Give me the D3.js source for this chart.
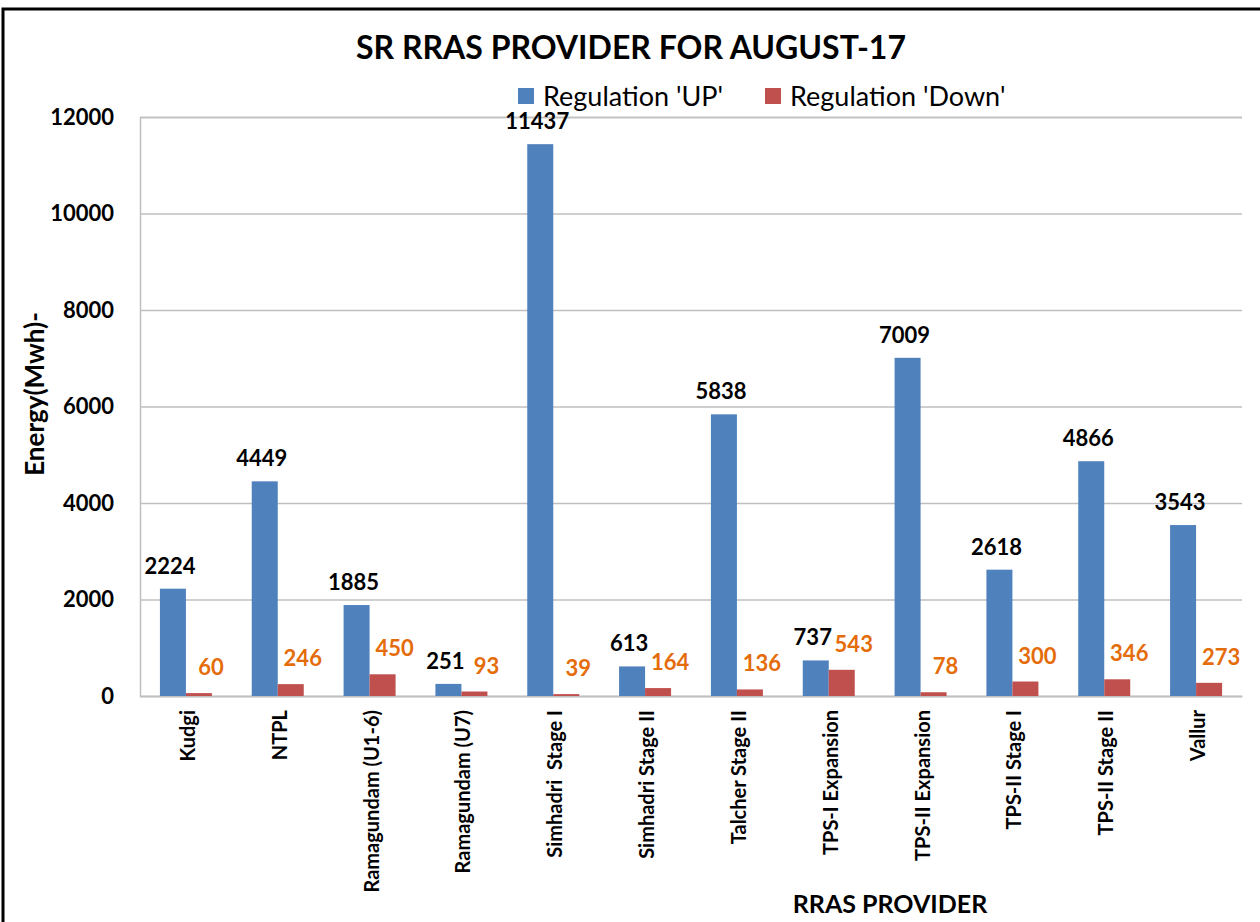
<!DOCTYPE html>
<html>
<head>
<meta charset="utf-8">
<script src="https://cdn.jsdelivr.net/npm/d3@7"></script>
<style>
  body { margin: 0; background: #fff; }
  text { font-family: Lato, "Open Sans", sans-serif; }
</style>
</head>
<body>
<svg id="chart" width="1260" height="922"></svg>
<script>
// categories and the two series
const providers = ['Kudgi', 'NTPL', 'Ramagundam (U1-6)', 'Ramagundam (U7)', 'Simhadri  Stage I',
  'Simhadri Stage II', 'Talcher Stage II', 'TPS-I Expansion', 'TPS-II Expansion',
  'TPS-II Stage I', 'TPS-II Stage II', 'Vallur'];
const regUp = [2224, 4449, 1885, 251, 11437, 613, 5838, 737, 7009, 2618, 4866, 3543];
const regDown = [60, 246, 450, 93, 39, 164, 136, 543, 78, 300, 346, 273];
const yTicks = [0, 2000, 4000, 6000, 8000, 10000, 12000];
const seriesNames = ["Regulation 'UP'", "Regulation 'Down'"];
const colors = ['#4F81BD', '#C0504D'];

const svg = d3.select('#chart');
const plotLeft = 140, plotRight = 1242, plotTop = 117, plotBottom = 696;

// outer frame
svg.append('rect')
  .attr('x', 3).attr('y', 9).attr('width', 1300).attr('height', 1000)
  .attr('fill', 'none').attr('stroke', '#000').attr('stroke-width', 3);

const x = d3.scaleBand().domain(providers).range([plotLeft, plotRight]);
const y = d3.scaleLinear().domain([0, 12000]).range([plotBottom, plotTop]);
const barW = 26;

// gridlines + y ticks
const yAxis = svg.append('g')
  .attr('transform', `translate(${plotLeft},0)`)
  .call(d3.axisLeft(y).tickValues(yTicks).tickFormat(d3.format('d'))
    .tickSize(-(plotRight - plotLeft)).tickPadding(26));
yAxis.select('.domain').attr('stroke', '#BFBFBF').attr('stroke-width', 1.5);
yAxis.selectAll('.tick line').attr('stroke', '#BFBFBF').attr('stroke-width', 1.5);
yAxis.selectAll('.tick text')
  .attr('fill', '#000').style('font-size', '22px').style('font-weight', 'bold');

// x axis category labels, rotated
const xAxis = svg.append('g')
  .attr('transform', `translate(0,${plotBottom})`)
  .call(d3.axisBottom(x).tickSize(0).tickPadding(0));
xAxis.select('.domain').attr('stroke', '#BFBFBF').attr('stroke-width', 1.5);
xAxis.selectAll('.tick text')
  .attr('fill', '#000')
  .style('font-size', '20px').style('font-weight', 'bold')
  .style('white-space', 'pre')
  .attr('text-anchor', 'end')
  .attr('transform', 'rotate(-90)')
  .attr('x', -14).attr('y', 2).attr('dy', '0.35em');

// bars
const groups = svg.append('g');
groups.selectAll('rect.up').data(regUp).join('rect')
  .attr('class', 'up')
  .attr('x', (d, i) => x(providers[i]) + x.bandwidth() / 2 - barW)
  .attr('y', d => y(d))
  .attr('width', barW)
  .attr('height', d => y(0) - y(d))
  .attr('fill', colors[0]);
groups.selectAll('rect.down').data(regDown).join('rect')
  .attr('class', 'down')
  .attr('x', (d, i) => x(providers[i]) + x.bandwidth() / 2)
  .attr('y', d => y(d))
  .attr('width', barW)
  .attr('height', d => y(0) - y(d))
  .attr('fill', colors[1]);

// value labels
svg.append('g').selectAll('text').data(regUp).join('text')
  .attr('x', (d, i) => x(providers[i]) + x.bandwidth() / 2 - barW / 2 - 3)
  .attr('y', d => y(d) - 15)
  .attr('text-anchor', 'middle')
  .style('font-size', '22px').style('font-weight', 'bold')
  .attr('fill', '#000')
  .text(d => d);
svg.append('g').selectAll('text').data(regDown).join('text')
  .attr('x', (d, i) => x(providers[i]) + x.bandwidth() / 2 + barW / 2 + 12)
  .attr('y', d => y(d) - 18)
  .attr('text-anchor', 'middle')
  .style('font-size', '22px').style('font-weight', 'bold')
  .attr('fill', '#E46C0A')
  .text(d => d);

// title
svg.append('text')
  .attr('x', 631).attr('y', 59)
  .attr('text-anchor', 'middle')
  .style('font-size', '32px').style('font-weight', 'bold')
  .text('SR RRAS PROVIDER FOR AUGUST-17');

// legend
const legend = svg.append('g').attr('transform', 'translate(518,97)');
const legX = [0, 247];
seriesNames.forEach((name, i) => {
  legend.append('rect')
    .attr('x', legX[i]).attr('y', -9).attr('width', 16).attr('height', 16)
    .attr('fill', colors[i]);
  legend.append('text')
    .attr('x', legX[i] + 25).attr('y', 0).attr('dy', '0.35em')
    .style('font-size', '27px')
    .text(name);
});

// axis titles
svg.append('text')
  .attr('transform', 'translate(44,394) rotate(-90)')
  .attr('text-anchor', 'middle')
  .style('font-size', '26px').style('font-weight', 'bold')
  .text('Energy(Mwh)-');
svg.append('text')
  .attr('x', 890).attr('y', 913)
  .attr('text-anchor', 'middle')
  .style('font-size', '25px').style('font-weight', 'bold')
  .text('RRAS PROVIDER');
</script>
</body>
</html>
